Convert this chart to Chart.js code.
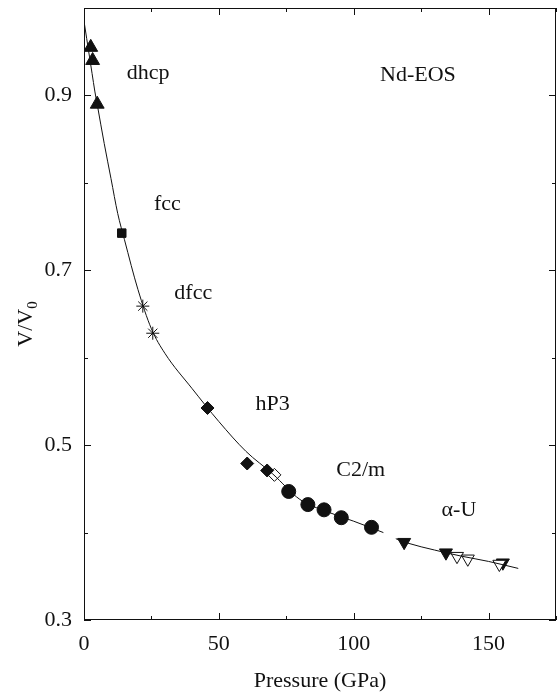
<!DOCTYPE html>
<html>
<head>
<meta charset="utf-8">
<script src="https://cdn.jsdelivr.net/npm/chart.js@4"></script>
<style>
  html, body { margin: 0; padding: 0; background: #fff; overflow: hidden; }
  #wrap { width: 557px; height: 698px; }
</style>
</head>
<body>
<div id="wrap"><canvas id="eosChart" width="557" height="698"></canvas></div>
<script>
// points: pressure (GPa) and V/V0
const dhcpP = [2.5, 3.2, 4.9];
const dhcpV = [0.955, 0.940, 0.890];
const fccP = [14.0];
const fccV = [0.7425];
const dfccP = [21.8, 25.5];
const dfccV = [0.659, 0.628];
const hp3P = [45.8, 60.5, 67.9];
const hp3V = [0.5425, 0.479, 0.471];
const hp3OpenP = [70.6];
const hp3OpenV = [0.466];
const c2mP = [75.9, 83.0, 89.0, 95.4, 106.6];
const c2mV = [0.447, 0.432, 0.426, 0.417, 0.406];
const auP = [118.7, 134.2, 155.3];
const auV = [0.389, 0.377, 0.3655];
const auOpenP = [138.3, 142.3, 154.0];
const auOpenV = [0.373, 0.370, 0.364];

// fitted EOS curves
const fitLowP = [0, 1, 2, 3, 4, 5, 7.5, 10, 12.5, 15, 20, 25, 30, 40, 50, 60, 70, 80, 90, 100, 111];
const fitLowV = [0.985, 0.965, 0.945, 0.925, 0.905, 0.888, 0.845, 0.805, 0.765, 0.735, 0.678, 0.633, 0.605, 0.565, 0.527, 0.493, 0.467, 0.438, 0.424, 0.413, 0.400];
const fitHighP = [115.6, 120, 130, 140, 150, 161];
const fitHighV = [0.393, 0.388, 0.380, 0.373, 0.367, 0.359];

const xTickLabels = [0, 50, 100, 150];
const yTickLabels = [0.3, 0.5, 0.7, 0.9];

// phase names with their place in data units
const phaseNames = ['dhcp', 'fcc', 'dfcc', 'Nd-EOS', 'hP3', 'C2/m', 'α-U'];
const phaseP = [23.8, 30.9, 40.5, 123.8, 69.9, 102.6, 139];
const phaseV = [0.925, 0.775, 0.674, 0.923, 0.547, 0.471, 0.425];

const ink = '#111';
const serif = '"Liberation Serif", "DejaVu Serif", serif';

function pts(xs, ys) {
    return xs.map((x, i) => ({ x: x, y: ys[i] }));
}

function markerSet(label, xs, ys, style, radius, fill, rotation) {
    return {
        type: 'scatter',
        label: label,
        data: pts(xs, ys),
        pointStyle: style,
        pointRadius: radius,
        pointHoverRadius: radius,
        pointRotation: rotation || 0,
        backgroundColor: fill,
        borderColor: ink,
        borderWidth: 1,
        showLine: false
    };
}

function curveSet(label, xs, ys) {
    return {
        type: 'line',
        label: label,
        data: pts(xs, ys),
        borderColor: ink,
        borderWidth: 1,
        pointRadius: 0,
        tension: 0.4,
        cubicInterpolationMode: 'monotone',
        fill: false
    };
}

const frame = {
    id: 'frame',
    afterDraw(chart) {
        const ctx = chart.ctx;
        const a = chart.chartArea;
        const xs = chart.scales.x;
        const ys = chart.scales.y;
        ctx.save();
        ctx.strokeStyle = ink;
        ctx.lineWidth = 1;
        ctx.strokeRect(a.left + 0.5, a.top + 0.5, a.right - a.left - 1, a.bottom - a.top - 1);

        // inward ticks on all four sides
        ctx.beginPath();
        xs.ticks.forEach(t => {
            const px = Math.round(xs.getPixelForValue(t.value)) + 0.5;
            const len = t.value % 50 === 0 ? 7 : 4;
            ctx.moveTo(px, a.bottom);
            ctx.lineTo(px, a.bottom - len);
            ctx.moveTo(px, a.top);
            ctx.lineTo(px, a.top + len);
        });
        ys.ticks.forEach(t => {
            const py = Math.round(ys.getPixelForValue(t.value)) + 0.5;
            const major = Math.round(t.value * 10) % 2 === 1;
            const len = major ? 7 : 4;
            ctx.moveTo(a.left, py);
            ctx.lineTo(a.left + len, py);
            ctx.moveTo(a.right, py);
            ctx.lineTo(a.right - len, py);
        });
        ctx.stroke();

        // phase labels
        ctx.fillStyle = ink;
        ctx.font = '22px ' + serif;
        ctx.textAlign = 'center';
        ctx.textBaseline = 'middle';
        phaseNames.forEach((name, i) => {
            ctx.fillText(name, xs.getPixelForValue(phaseP[i]), ys.getPixelForValue(phaseV[i]));
        });

        // y axis title V/V0 with subscript
        ctx.translate(26, (a.top + a.bottom) / 2 + 10);
        ctx.rotate(-Math.PI / 2);
        ctx.textAlign = 'left';
        ctx.textBaseline = 'middle';
        ctx.font = '22px ' + serif;
        const main = 'V/V';
        const w = ctx.measureText(main).width;
        ctx.font = '15px ' + serif;
        const ws = ctx.measureText('0').width;
        const start = -(w + ws) / 2;
        ctx.font = '22px ' + serif;
        ctx.fillText(main, start, 0);
        ctx.font = '15px ' + serif;
        ctx.fillText('0', start + w, 7);
        ctx.restore();
    }
};

const ctx = document.getElementById('eosChart').getContext('2d');
new Chart(ctx, {
    data: {
        datasets: [
            curveSet('fit low', fitLowP, fitLowV),
            curveSet('fit high', fitHighP, fitHighV),
            markerSet('dhcp', dhcpP, dhcpV, 'triangle', 8, ink),
            markerSet('fcc', fccP, fccV, 'rect', 6, ink),
            markerSet('dfcc', dfccP, dfccV, 'star', 6.5, ink),
            markerSet('hP3', hp3P, hp3V, 'rectRot', 6.5, ink),
            markerSet('hP3 open', hp3OpenP, hp3OpenV, 'rectRot', 6.5, '#fff'),
            markerSet('C2/m', c2mP, c2mV, 'circle', 7, ink),
            markerSet('alpha-U open', auOpenP, auOpenV, 'triangle', 7.5, '#fff', 180),
            markerSet('alpha-U', auP, auV, 'triangle', 7.5, ink, 180)
        ]
    },
    options: {
        responsive: false,
        animation: false,
        layout: { autoPadding: false, padding: { top: 8, right: 1, left: 0, bottom: 0 } },
        plugins: {
            legend: { display: false },
            tooltip: { enabled: false }
        },
        scales: {
            x: {
                type: 'linear',
                min: 0,
                max: 175,
                grid: { display: false, drawTicks: false },
                border: { display: false },
                afterFit(scale) {
                    scale.height = 78;
                    scale.paddingLeft = 0;
                    scale.paddingRight = 0;
                },
                ticks: {
                    stepSize: 25,
                    padding: 11,
                    color: ink,
                    font: { family: serif, size: 22 },
                    callback: v => xTickLabels.includes(v) ? String(v) : ''
                },
                title: {
                    display: true,
                    text: 'Pressure (GPa)',
                    color: ink,
                    padding: { top: 15 },
                    font: { family: serif, size: 22 }
                }
            },
            y: {
                type: 'linear',
                min: 0.3,
                max: 1.0,
                grid: { display: false, drawTicks: false },
                border: { display: false },
                afterFit(scale) {
                    scale.width = 84;
                    scale.paddingTop = 0;
                    scale.paddingBottom = 0;
                },
                ticks: {
                    stepSize: 0.1,
                    padding: 12,
                    color: ink,
                    font: { family: serif, size: 22 },
                    callback: v => {
                        const r = Math.round(v * 10) / 10;
                        return yTickLabels.includes(r) ? r.toFixed(1) : '';
                    }
                }
            }
        }
    },
    plugins: [frame]
});
</script>
</body>
</html>
